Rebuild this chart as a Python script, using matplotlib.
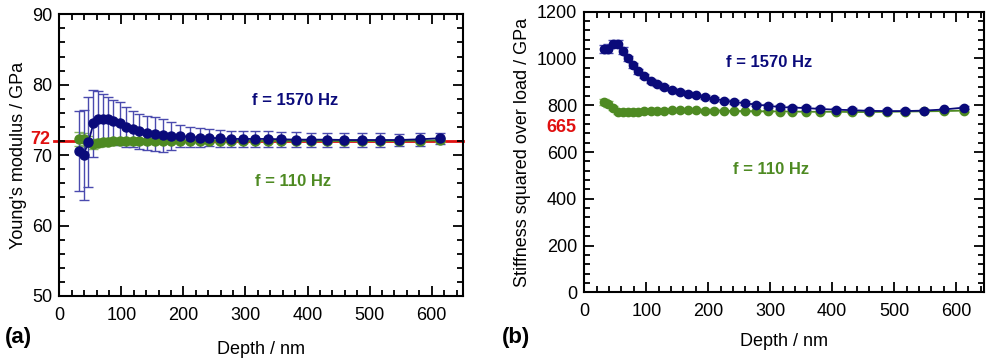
import numpy as np
import matplotlib.pyplot as plt
from matplotlib.ticker import MultipleLocator
import matplotlib.transforms as mtransforms

plt.rcParams['font.family'] = ['Liberation Sans', 'DejaVu Sans']

# depth segments (nm), same for both frequencies
depth = [32, 39, 47, 55, 62, 70, 78, 87, 97, 107, 118, 129, 141, 154, 167, 180,
         195, 210, 226, 242, 259, 277, 296, 316, 336, 358, 381, 406, 432, 459,
         488, 517, 548, 581, 613]

# (a) Young's modulus, GPa
E_1570 = [70.6, 70.0, 71.9, 74.5, 75.2, 75.2, 75.1, 74.8, 74.5, 74.0, 73.7, 73.4,
          73.2, 73.0, 72.8, 72.75, 72.7, 72.6, 72.5, 72.45, 72.4, 72.3, 72.3, 72.3,
          72.3, 72.25, 72.2, 72.2, 72.2, 72.15, 72.15, 72.15, 72.15, 72.25, 72.4]
E_1570_err = [5.7, 6.4, 6.4, 4.7, 3.9, 3.5, 3.2, 3.1, 3.0, 2.8, 2.6, 2.5, 2.4, 2.4,
              2.3, 2.0, 1.6, 1.4, 1.3, 1.2, 1.2, 1.1, 1.1, 1.1, 1.1, 1.1, 1.1, 1.0,
              1.0, 1.0, 1.0, 1.0, 0.9, 0.9, 0.8]
E_110 = [72.3, 72.3, 71.9, 71.6, 71.7, 71.8, 71.9, 71.95, 72.0, 72.0, 72.0, 72.0,
         72.0, 72.0, 72.0, 72.0, 72.0, 72.0, 72.0, 72.0, 72.0, 72.0, 72.0, 72.0,
         72.0, 72.0, 72.0, 72.0, 72.0, 72.0, 72.0, 72.0, 72.0, 72.05, 72.1]
E_110_err = [1.0, 0.9, 0.8, 0.7, 0.6, 0.5, 0.5, 0.45, 0.4, 0.4, 0.4, 0.35, 0.35,
             0.35, 0.3, 0.3, 0.3, 0.3, 0.3, 0.3, 0.3, 0.3, 0.3, 0.3, 0.3, 0.3, 0.3,
             0.3, 0.3, 0.3, 0.3, 0.3, 0.3, 0.3, 0.3]

# (b) stiffness squared over load, GPa
S_1570 = [1040, 1042, 1062, 1064, 1034, 1000, 970, 945, 925, 905, 890, 878, 867,
          858, 850, 842, 834, 827, 820, 814, 808, 803, 798, 792, 790, 788, 784,
          781, 779, 776, 775, 775, 777, 782, 790]
S_1570_err = [18, 18, 16, 16, 14, 12, 11, 10, 10, 9, 9, 9, 8, 8, 8, 8, 8, 8, 8, 8,
              8, 8, 8, 8, 8, 8, 8, 8, 8, 8, 8, 8, 8, 8, 8]
S_110 = [815, 805, 788, 772, 770, 771, 772, 773, 774, 775, 776, 777, 778, 778, 778,
         778, 777, 777, 776, 775, 775, 774, 774, 773, 773, 772, 772, 772, 771, 771,
         772, 773, 774, 775, 777]
S_110_err = [12, 11, 10, 8, 7, 6, 6, 5, 5, 5, 5, 5, 5, 5, 5, 5, 5, 5, 5, 5, 5, 5,
             5, 5, 5, 5, 5, 5, 5, 5, 5, 5, 5, 5, 5]

E_ref = 72
S_ref_label = "665"

BLUE = '#0a0a7a'
BLUE_ERR = '#4a4aae'
GREEN = '#4e8a22'
GREEN_ERR = '#86b860'


def style_axes(ax, ymajor, yminor):
    ax.xaxis.set_major_locator(MultipleLocator(100))
    ax.xaxis.set_minor_locator(MultipleLocator(20))
    ax.yaxis.set_major_locator(MultipleLocator(ymajor))
    ax.yaxis.set_minor_locator(MultipleLocator(yminor))
    ax.tick_params(which='both', direction='in', top=True, right=True,
                   labelsize=13, width=1.3)
    ax.tick_params(axis='x', which='both', pad=8)
    ax.tick_params(axis='y', which='both', pad=5)
    ax.tick_params(which='major', length=7)
    ax.tick_params(which='minor', length=4)
    for s in ax.spines.values():
        s.set_linewidth(1.5)


def plot_series(ax, y, err, color, ecolor, ms):
    ax.errorbar(depth, y, yerr=err, fmt='o-', color=color, ecolor=ecolor,
                elinewidth=1.0, capsize=3.5, capthick=1.0, markersize=ms,
                linewidth=1.3, zorder=3)


fig = plt.figure(figsize=(9.9, 3.59), dpi=100)
ax1 = fig.add_axes([0.0599, 0.1755, 0.4075, 0.7847])
ax2 = fig.add_axes([0.5902, 0.1858, 0.4037, 0.7816])

# (a)
ax1.plot([-8, 650], [E_ref, E_ref], color='#e01010', lw=2, clip_on=False, zorder=1)
plot_series(ax1, E_110, E_110_err, GREEN, GREEN_ERR, 6.5)
plot_series(ax1, E_1570, E_1570_err, BLUE, BLUE_ERR, 6.5)
ax1.set_xlim(0, 650)
ax1.set_ylim(50, 90)
style_axes(ax1, 10, 2)
ax1.set_xlabel('Depth / nm', fontsize=13, labelpad=12)
ax1.set_ylabel("Young's modulus / GPa", fontsize=13, labelpad=4)
ax1.text(-0.022, E_ref + 0.2, str(E_ref), color='#e01010', fontsize=13,
         fontweight='bold', ha='right', va='center',
         transform=mtransforms.blended_transform_factory(ax1.transAxes, ax1.transData))
ax1.text(380, 77.7, 'f = 1570 Hz', color=BLUE, fontsize=12, fontweight='bold',
         ha='center', va='center')
ax1.text(377, 66.2, 'f = 110 Hz', color=GREEN, fontsize=12, fontweight='bold',
         ha='center', va='center')
fig.text(0.005, 0.06, '(a)', fontsize=16, fontweight='bold', ha='left', va='center')

# (b)
plot_series(ax2, S_110, S_110_err, GREEN, GREEN_ERR, 6)
plot_series(ax2, S_1570, S_1570_err, BLUE, BLUE_ERR, 6)
ax2.set_xlim(0, 645)
ax2.set_ylim(0, 1200)
style_axes(ax2, 200, 40)
ax2.set_xlabel('Depth / nm', fontsize=13, labelpad=9)
ax2.set_ylabel('Stiffness squared over load / GPa', fontsize=13, labelpad=4)
ax2.text(-0.02, 703, S_ref_label, color='#e01010', fontsize=13, fontweight='bold',
         ha='right', va='center',
         transform=mtransforms.blended_transform_factory(ax2.transAxes, ax2.transData))
ax2.text(299, 984, 'f = 1570 Hz', color=BLUE, fontsize=12, fontweight='bold',
         ha='center', va='center')
ax2.text(302, 526, 'f = 110 Hz', color=GREEN, fontsize=12, fontweight='bold',
         ha='center', va='center')
fig.text(0.507, 0.06, '(b)', fontsize=16, fontweight='bold', ha='left', va='center')

fig.savefig('out.png', dpi=100)
